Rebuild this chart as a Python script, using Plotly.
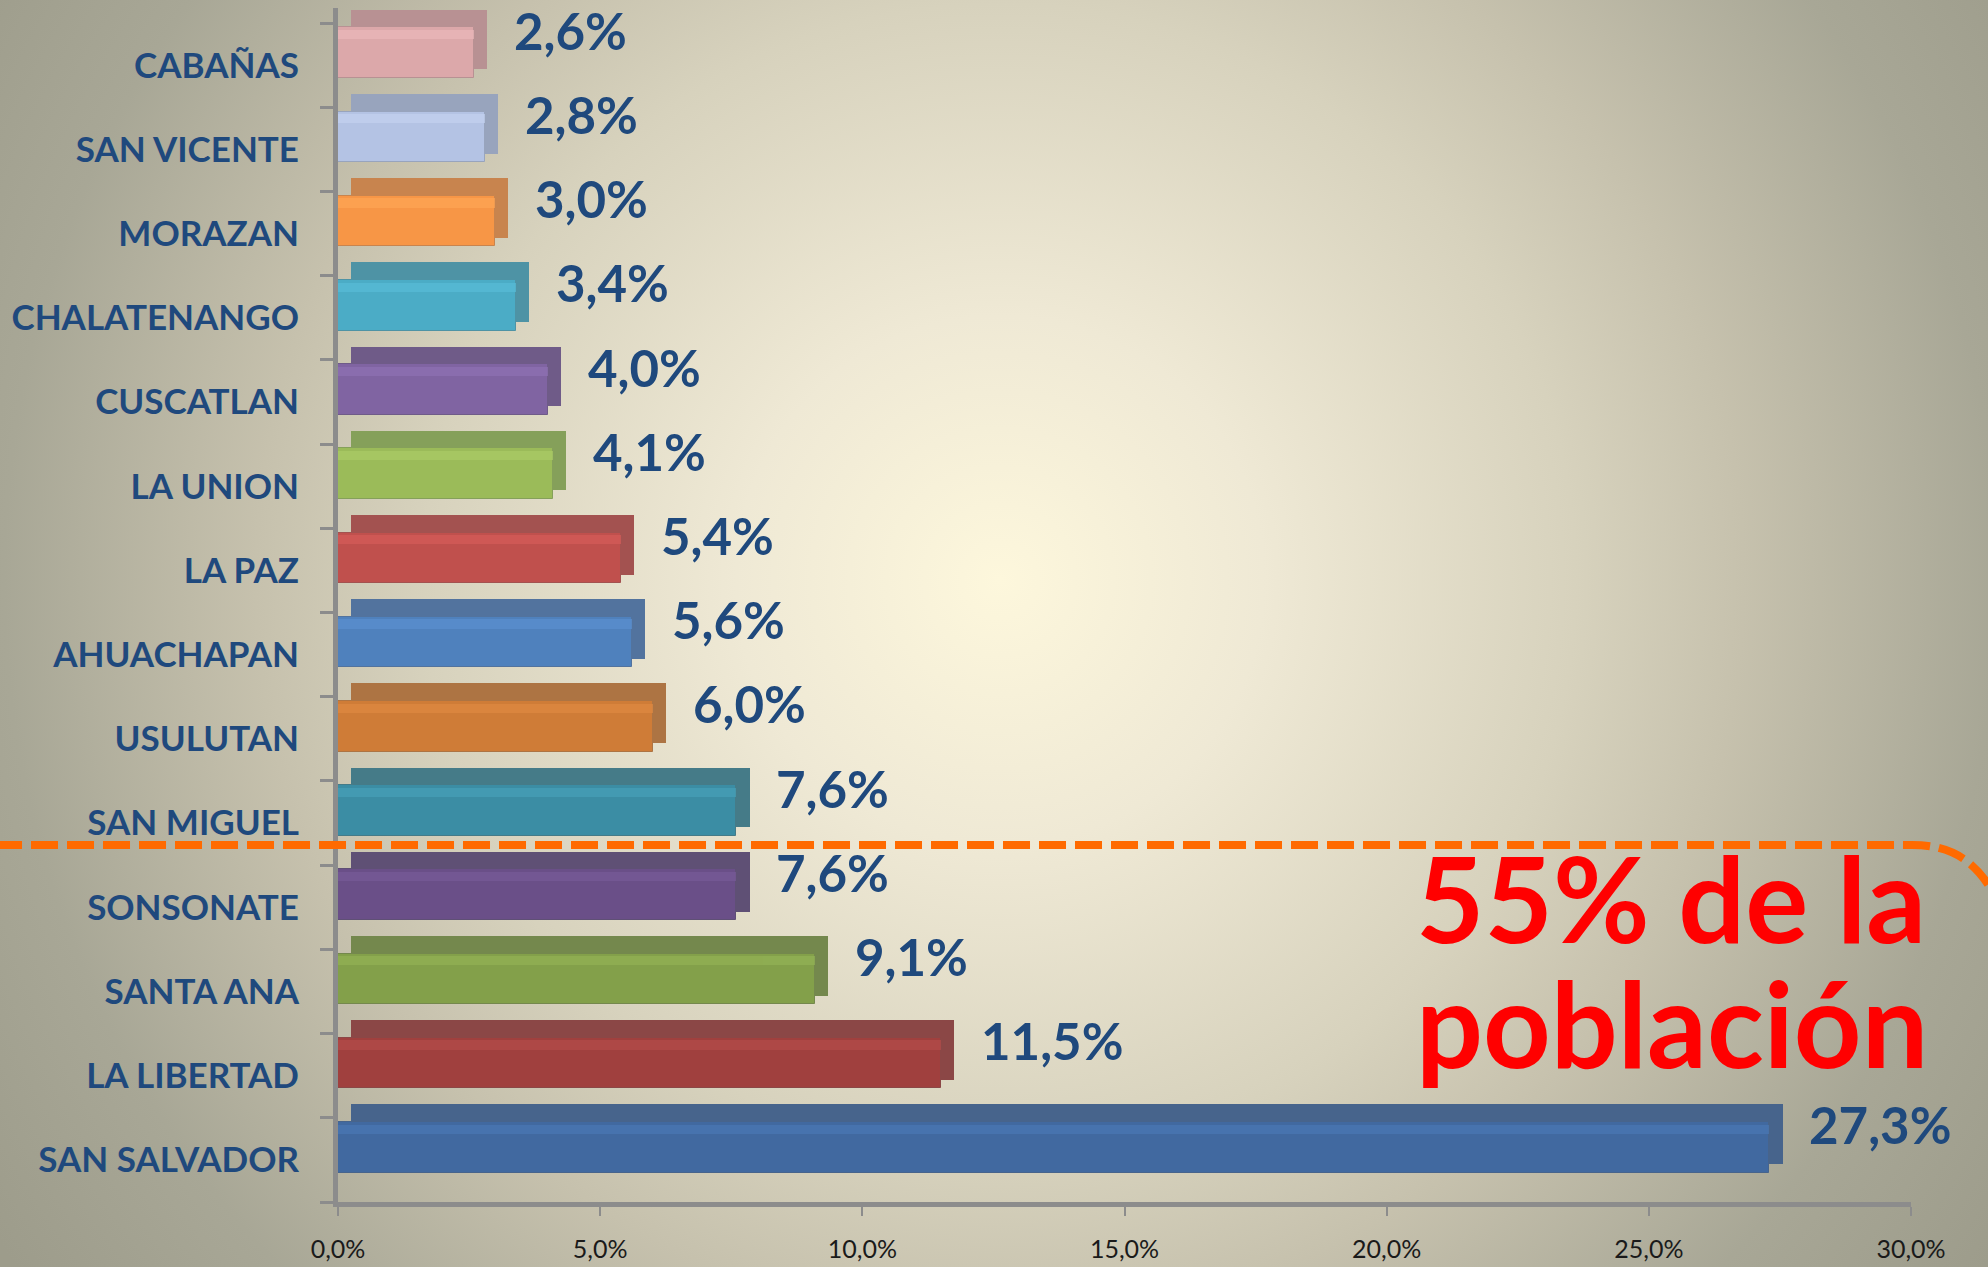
import urllib.parse
import plotly.graph_objects as go

# ---------------- data (bottom -> top) ----------------
categories = ["SAN SALVADOR", "LA LIBERTAD", "SANTA ANA", "SONSONATE", "SAN MIGUEL",
              "USULUTAN", "AHUACHAPAN", "LA PAZ", "LA UNION", "CUSCATLAN",
              "CHALATENANGO", "MORAZAN", "SAN VICENTE", "CABAÑAS"]
values = [27.3, 11.5, 9.1, 7.6, 7.6, 6.0, 5.6, 5.4, 4.1, 4.0, 3.4, 3.0, 2.8, 2.6]
value_labels = ["27,3%", "11,5%", "9,1%", "7,6%", "7,6%", "6,0%", "5,6%", "5,4%",
                "4,1%", "4,0%", "3,4%", "3,0%", "2,8%", "2,6%"]
x_tickvals = [0, 5, 10, 15, 20, 25, 30]
x_ticktext = ["0,0%", "5,0%", "10,0%", "15,0%", "20,0%", "25,0%", "30,0%"]

front_colors = ["#4169a0", "#a0403e", "#83a04a", "#6a4f88", "#3b8da4",
                "#cf7c37", "#4f81bd", "#c0504d", "#9bbb59", "#8064a2",
                "#4bacc6", "#f79646", "#b4c3e4", "#dca8aa"]
side_colors = ["#47648c", "#8b4746", "#74884d", "#5f5075", "#457b88",
               "#ad7443", "#52739e", "#a35250", "#85a05a", "#6f5b88",
               "#4e93a5", "#c8844e", "#98a4bd", "#b89193"]
highlight_colors = ["#4a78b4", "#b44c4a", "#93b255", "#785b98", "#47a0b8",
                    "#e08a42", "#5b90d0", "#d65c59", "#abcc66", "#8f72b4",
                    "#58bdd8", "#ffa655", "#c4d2f0", "#ebb8ba"]

# ---------------- geometry ----------------
W, H = 1988, 1267
L, R, T, B = 338, 77, 8, 65
PW, PH = W - L - R, H - T - B


def px2x(px):
    return (px - L) / PW


def py2y(py):
    return (H - B - py) / PH


LABEL_BLUE = "#1f497d"
AXIS_GRAY = "#8c8c8c"

fig = go.Figure()

# side / top faces (3D look)
fig.add_trace(go.Bar(
    y=categories, x=values, base=0.25, orientation="h",
    offset=-0.05, width=0.71,
    marker=dict(color=side_colors, line=dict(width=0)),
    hoverinfo="skip", showlegend=False))
# front faces
fig.add_trace(go.Bar(
    y=categories, x=values, base=0, orientation="h",
    offset=-0.15, width=0.6,
    marker=dict(color=front_colors, line=dict(color=side_colors, width=1)),
    showlegend=False))
# highlight strip
fig.add_trace(go.Bar(
    y=categories, x=values, base=0, orientation="h",
    offset=0.31, width=0.11,
    marker=dict(color=highlight_colors, line=dict(width=0)),
    opacity=0.7, hoverinfo="skip", showlegend=False))

annotations = []
for cat, v, lab in zip(categories, values, value_labels):
    annotations.append(dict(
        x=v, y=cat, xref="x", yref="y", text=lab, showarrow=False,
        xanchor="left", yanchor="middle", xshift=38, yshift=35,
        font=dict(family="Lato", size=51, color=LABEL_BLUE, weight="bold")))

annotations.append(dict(
    x=px2x(1414), y=py2y(897), xref="paper", yref="paper", text="55% de la",
    showarrow=False, xanchor="left", yanchor="middle",
    font=dict(family="Lato", size=118, color="#ff0000", weight="bold")))
annotations.append(dict(
    x=px2x(1414), y=py2y(1022), xref="paper", yref="paper", text="población",
    showarrow=False, xanchor="left", yanchor="middle",
    font=dict(family="Lato", size=118, color="#ff0000", weight="bold")))

# dashed separator with rounded right end
p = lambda px, py: f"{px2x(px):.5f},{py2y(py):.5f}"
path = (f"M {p(-5, 845)} L {p(1912, 845)} "
        f"C {p(1952, 845)} {p(1978, 861)} {p(1998, 902)}")
shapes = [dict(type="path", xref="paper", yref="paper", path=path,
               line=dict(color="#ff6a00", width=8, dash="27px,9px"),
               layer="above")]

# radial gradient background
svg = (
    f'<svg xmlns="http://www.w3.org/2000/svg" width="{W}" height="{H}" '
    f'viewBox="0 0 {W} {H}" preserveAspectRatio="none">'
    '<defs><radialGradient id="g" gradientUnits="userSpaceOnUse" '
    'cx="1000" cy="580" r="1200">'
    '<stop offset="0" stop-color="#fdf7dc"/>'
    '<stop offset="0.22" stop-color="#efe9d5"/>'
    '<stop offset="0.48" stop-color="#d7d2bd"/>'
    '<stop offset="0.62" stop-color="#c6c1ad"/>'
    '<stop offset="0.83" stop-color="#a8a796"/>'
    '<stop offset="1" stop-color="#9d9c8b"/>'
    '</radialGradient></defs>'
    f'<rect x="0" y="0" width="{W}" height="{H}" fill="url(#g)"/></svg>'
)
bg_src = "data:image/svg+xml;charset=utf-8," + urllib.parse.quote(svg)
images = [dict(source=bg_src, xref="paper", yref="paper",
               x=-L / PW, y=1 + T / PH, sizex=W / PW, sizey=H / PH,
               xanchor="left", yanchor="top", sizing="stretch", layer="below")]

fig.update_layout(
    width=W, height=H,
    margin=dict(l=L, r=R, t=T, b=B, autoexpand=False),
    paper_bgcolor="#a8a796", plot_bgcolor="rgba(0,0,0,0)",
    barmode="overlay", bargap=0,
    showlegend=False,
    annotations=annotations, shapes=shapes, images=images,
    xaxis=dict(
        range=[0, 30], tickvals=x_tickvals, ticktext=x_ticktext,
        automargin=False,
        showgrid=False, zeroline=False,
        showline=True, linewidth=5, linecolor=AXIS_GRAY,
        ticks="outside", ticklen=9, tickwidth=2, tickcolor=AXIS_GRAY,
        ticklabelstandoff=12,
        tickfont=dict(family="Lato", size=25, color="#1a1a1a")),
    yaxis=dict(
        type="category", categoryorder="array", categoryarray=categories,
        range=[-0.5, 13.68], automargin=False,
        showgrid=False, zeroline=False,
        showline=True, linewidth=5, linecolor=AXIS_GRAY,
        ticks="outside", ticklen=13, tickwidth=3, tickcolor=AXIS_GRAY,
        tickson="boundaries", ticklabelstandoff=27,
        tickfont=dict(family="Lato", size=35, color=LABEL_BLUE, weight="bold")),
)

fig.write_html(
    "out.html",
    config={"displayModeBar": False},
    post_script="document.body.style.margin='0';document.body.style.overflow='hidden';",
)
